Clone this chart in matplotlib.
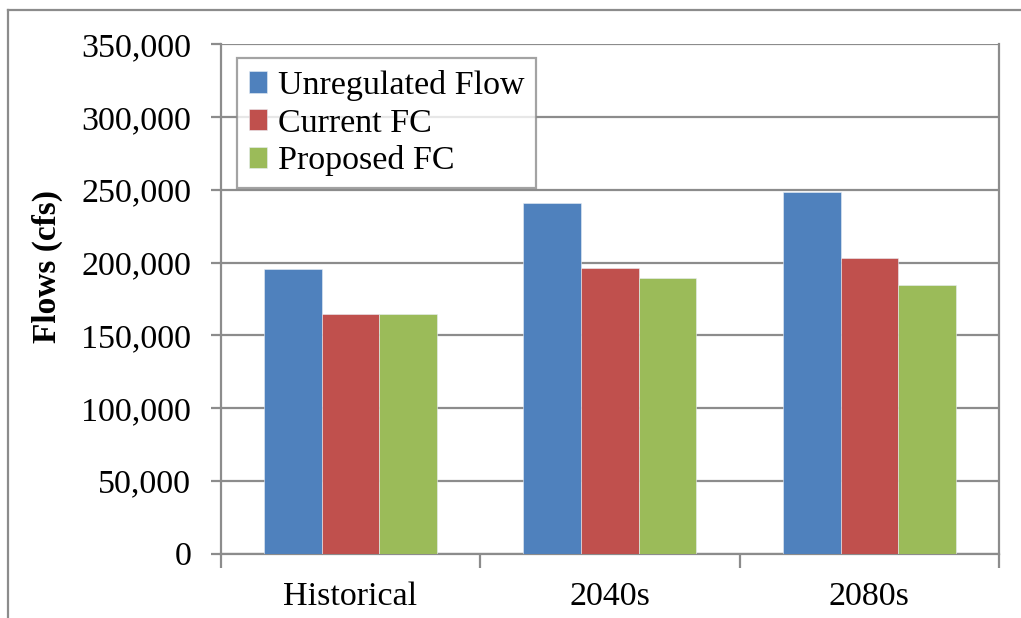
import matplotlib
matplotlib.use("Agg")
import matplotlib.pyplot as plt
from matplotlib.lines import Line2D
from matplotlib.ticker import FuncFormatter, MultipleLocator
import numpy as np

categories = ["Historical", "2040s", "2080s"]
series_names = ["Unregulated Flow", "Current FC", "Proposed FC"]
unregulated = [195800, 240800, 248300]
current_fc = [164500, 196600, 203000]
proposed_fc = [164500, 189400, 184800]
colors = ["#4F81BD", "#C0504D", "#9BBB59"]

plt.rcParams["font.family"] = ["Liberation Serif", "DejaVu Serif"]
grid_color = "#8c8c8c"
fs = 24.5

fig = plt.figure(figsize=(10.21, 6.18), dpi=100)
ax = fig.add_axes([0.2162, 0.104, 0.9785 - 0.2162, 0.9283 - 0.104])

bar_w = 1 / 4.5
x = np.arange(len(categories))
for j, (name, vals) in enumerate(zip(series_names, [unregulated, current_fc, proposed_fc])):
    ax.bar(x + (j - 1) * bar_w, vals, width=bar_w, color=colors[j],
           edgecolor="#e8eef5", linewidth=0.4, label=name, zorder=3)

ax.set_xlim(-0.5, 2.5)
ax.set_ylim(0, 350000)
ax.yaxis.set_major_locator(MultipleLocator(50000))
ax.yaxis.set_major_formatter(FuncFormatter(lambda v, p: f"{int(v):,}"))
ax.grid(axis="y", color=grid_color, linewidth=1.6, zorder=0)
ax.set_axisbelow(True)

# category labels centred, tick marks at category boundaries
ax.set_xticks(x)
ax.set_xticklabels(categories)
ax.set_xticks(np.arange(-0.5, 3.0, 1.0), minor=True)
ax.tick_params(axis="x", which="major", length=0, pad=20, labelsize=fs)
ax.tick_params(axis="x", which="minor", length=10, width=1.6, color=grid_color)
ax.tick_params(axis="y", length=7.2, width=1.6, color=grid_color, pad=14, labelsize=fs)

for side in ["left", "right", "bottom"]:
    ax.spines[side].set_color(grid_color)
    ax.spines[side].set_linewidth(1.6)
ax.spines["top"].set_visible(False)

fig.text(47 / 1021, 1 - 266.5 / 618, "Flows (cfs)", rotation=90, ha="center",
         va="center", fontsize=24, fontweight="bold")

leg = ax.legend(loc="upper left", bbox_to_anchor=(0.0206, 0.9725), fontsize=fs,
                frameon=True, fancybox=False, handlelength=0.55, handleheight=0.6,
                handletextpad=0.3, labelspacing=0.2, borderpad=0.35,
                borderaxespad=0)
leg.get_frame().set_edgecolor(grid_color)
leg.get_frame().set_linewidth(1.6)

# outer chart border
fig.add_artist(Line2D([8 / 1021, 1.0], [1 - 10 / 618, 1 - 10 / 618],
                      transform=fig.transFigure, color=grid_color, linewidth=1.6))
fig.add_artist(Line2D([8 / 1021, 8 / 1021], [0.0, 1 - 10 / 618],
                      transform=fig.transFigure, color=grid_color, linewidth=1.6))

fig.savefig("out.png", dpi=100)
